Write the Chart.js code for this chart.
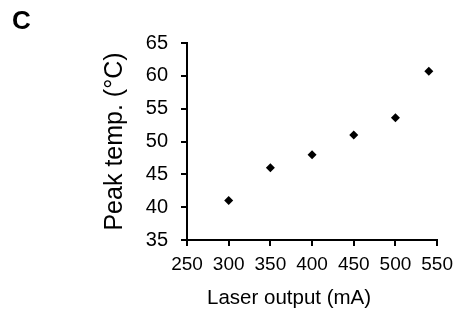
<html>
<head>
<meta charset="utf-8">
<title>Peak temp</title>
<script src="https://cdn.jsdelivr.net/npm/chart.js"></script>
<style>
  body { margin: 0; background: #fff; }
  #wrap { position: relative; width: 460px; height: 326px; }
  #panel { position: absolute; left: 12px; top: 5px; font: bold 26px "Liberation Sans", Arial, sans-serif; color: #000; }
</style>
</head>
<body>
<div id="wrap">
  <canvas id="myChart" width="460" height="326"></canvas>
  <div id="panel">C</div>
</div>
<script>
// laser output (mA) vs peak temperature (°C)
var laserOutput = [300, 350, 400, 450, 500, 540];
var peakTemp = [41, 46, 48, 51, 53.6, 60.7];
var xTicks = [250, 300, 350, 400, 450, 500, 550];
var yTicks = [35, 40, 45, 50, 55, 60, 65];
var xTitle = 'Laser output (mA)';
var yTitle = 'Peak temp. (°C)';

var font = "'Liberation Sans', Arial, sans-serif";

var points = laserOutput.map(function(x, i) {
  return {x: x, y: peakTemp[i]};
});

// x title sits a bit left of the plot centre in the original
var xTitlePlugin = {
  id: 'xTitle',
  afterDraw: function(chart) {
    var a = chart.chartArea;
    var c = chart.ctx;
    c.save();
    c.font = '20.5px ' + font;
    c.fillStyle = '#000';
    c.textAlign = 'center';
    c.textBaseline = 'middle';
    c.fillText(xTitle, (a.left + a.right) / 2 - 23, a.bottom + 58);
    c.restore();
  }
};

var ctx = document.getElementById('myChart').getContext('2d');
var config = {
  type: 'scatter',
  data: {
    datasets: [{
      data: points,
      pointStyle: 'rectRot',
      pointRadius: 4.5,
      pointBorderWidth: 0,
      backgroundColor: '#000',
      borderColor: '#000'
    }]
  },
  options: {
    responsive: false,
    animation: false,
    layout: { padding: { top: 43, right: 20, left: 0, bottom: 0 } },
    plugins: { legend: { display: false }, tooltip: { enabled: false } },
    scales: {
      x: {
        type: 'linear',
        min: xTicks[0],
        max: xTicks[xTicks.length - 1],
        afterBuildTicks: function(axis) {
          axis.ticks = xTicks.map(function(v) { return {value: v}; });
        },
        afterFit: function(axis) { axis.height = 86; },
        grid: { drawOnChartArea: false, drawTicks: true, tickLength: 6, color: '#000', lineWidth: 2 },
        border: { color: '#000', width: 2 },
        ticks: { color: '#000', padding: 7, maxRotation: 0, font: { family: font, size: 19 } },
        title: { display: false }
      },
      y: {
        min: yTicks[0],
        max: yTicks[yTicks.length - 1],
        afterBuildTicks: function(axis) {
          axis.ticks = yTicks.map(function(v) { return {value: v}; });
        },
        afterFit: function(axis) { axis.width = 187; },
        grid: { drawOnChartArea: false, drawTicks: true, tickLength: 6, color: '#000', lineWidth: 2 },
        border: { color: '#000', width: 2 },
        ticks: { color: '#000', padding: 13, font: { family: font, size: 20 } },
        title: { display: true, text: yTitle, color: '#000', padding: { top: 100 }, font: { family: font, size: 25 } }
      }
    }
  },
  plugins: [xTitlePlugin]
};
var myChart = new Chart(ctx, config);
</script>
</body>
</html>
